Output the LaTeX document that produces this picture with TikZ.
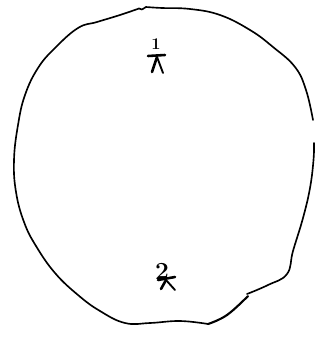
\documentclass[tikz,border=0pt]{standalone}
\begin{document}
\begin{tikzpicture}[x=0.03cm,y=-0.03cm,
  ink/.style={line width=1.4pt,line cap=round,line join=round,black},
  fig/.style={line width=2.2pt,line cap=round,line join=round,black},
  num/.style={inner sep=0pt}]
\useasboundingbox (0,0) rectangle (320,338);
\fill[white] (0,0) rectangle (320,338);
% outline, main stroke
\draw[ink] plot[smooth,tension=0.7] coordinates {
 (313,120) (306,90) (295,67) (273,47) (250,30) (220,15) (190,9) (162,8) (146,7)};
\draw[ink] (146,7) -- (142,9.5) -- (139,8.5);
\draw[ink] plot[smooth,tension=0.7] coordinates {
 (139,8.5) (120,15) (97,22) (78,28) (55,48) (38,68) (25,95) (18,125) (14,160)
 (16,192) (24,222) (36,246) (55,273) (78,295) (100,311) (125,323) (150,323)
 (180,321) (208,324)};
\draw[ink,line width=1.8pt] plot[smooth,tension=0.7] coordinates {
 (208,324) (227,315) (248,296)};
% outline, right stroke
\draw[ink] plot[smooth,tension=0.7] coordinates {
 (247,294) (268,285) (287,274) (293,251) (303,218) (310,188) (313.5,160)
 (314,143)};
% figure 1
\node[num,font=\fontsize{14}{14}\selectfont\bfseries] (n1) at (156,44) {1};
\coordinate (a1l) at (148,56); \coordinate (a1r) at (165,55);
\coordinate (h1) at (157,57);
\coordinate (l1l) at (152,72); \coordinate (l1r) at (163,73);
\draw[fig] (a1l) -- (a1r);
\draw[fig] (h1) -- (l1l);
\draw[fig,line width=1.6pt] (h1) -- (l1r);
% figure 2
\node[num,font=\fontsize{21}{21}\selectfont\bfseries] (n2) at (162,271) {2};
\coordinate (a2l) at (158,280); \coordinate (a2r) at (175,277);
\coordinate (h2) at (166,280);
\coordinate (l2l) at (161,289); \coordinate (l2r) at (175,290);
\draw[fig] (a2l) -- (a2r);
\draw[fig] (h2) -- (l2l);
\draw[fig,line width=1.6pt] (h2) -- (l2r);
\end{tikzpicture}
\end{document}
